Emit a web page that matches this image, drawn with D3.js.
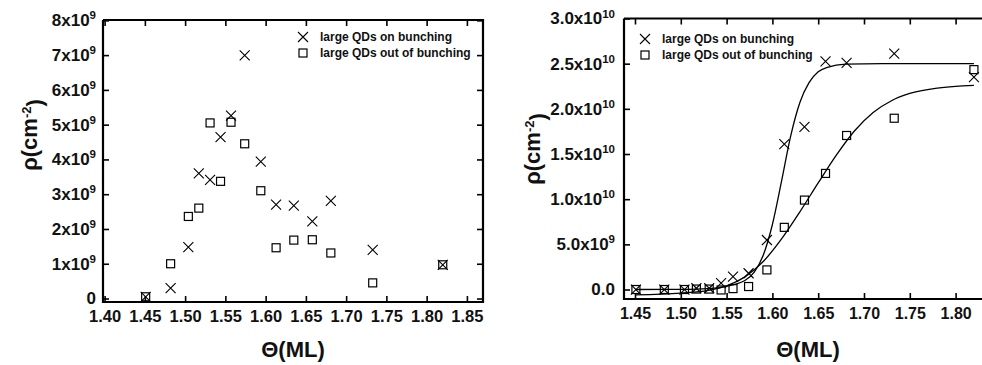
<!DOCTYPE html>
<html>
<head>
<meta charset="utf-8">
<script src="https://cdn.jsdelivr.net/npm/d3@7"></script>
<style>
    body { margin: 0; background: #fff; }
    svg { display: block; }
    text { font-family: "Liberation Sans", Arial, Helvetica, sans-serif; font-weight: bold; fill: #111; }
</style>
</head>
<body>
<svg id="chart" width="982" height="365"></svg>
<script>
// coverage in ML, shared by both panels
const theta = [1.451, 1.482, 1.504, 1.517, 1.531, 1.544, 1.557, 1.574, 1.594, 1.613, 1.635, 1.658, 1.681, 1.733, 1.820];

// densities in units of 1e9 cm^-2
const onBunchLeft  = [0.05, 0.3, 1.48, 3.6, 3.41, 4.64, 5.26, 6.99, 3.94, 2.7, 2.67, 2.22, 2.81, 1.40, 0.97];
const outBunchLeft = [0.05, 1.0, 2.36, 2.6, 5.05, 3.37, 5.07, 4.45, 3.1, 1.46, 1.68, 1.69, 1.31, 0.45, 0.97];

const onBunchRight  = [0, 0, 0, 0.14, 0.14, 0.7, 1.43, 1.8, 5.48, 16.1, 18.0, 25.26, 25.1, 26.1, 23.5];
const outBunchRight = [0, 0, 0, 0.05, 0.05, -0.05, 0.1, 0.33, 2.17, 6.88, 9.9, 12.85, 17.05, 18.96, 24.34];

// fitted curves
const fitOnTheta = [1.45, 1.50, 1.53, 1.55, 1.56, 1.57, 1.58, 1.59, 1.60, 1.61, 1.62, 1.63, 1.64, 1.65, 1.66, 1.68, 1.72, 1.82];
const fitOn      = [0, 0.02, 0.1, 0.35, 0.6, 1.0, 1.9, 3.8, 7.2, 12.0, 17.0, 20.7, 22.9, 24.1, 24.6, 24.95, 25.0, 25.0];
const fitOutTheta = [1.45, 1.50, 1.53, 1.55, 1.57, 1.59, 1.61, 1.63, 1.65, 1.67, 1.69, 1.71, 1.73, 1.75, 1.78, 1.82];
const fitOut      = [-0.6, -0.4, -0.1, 0.4, 1.4, 3.1, 5.6, 8.6, 11.8, 14.9, 17.6, 19.6, 20.9, 21.7, 22.3, 22.6];

const xTicksLeft = [1.40, 1.45, 1.50, 1.55, 1.60, 1.65, 1.70, 1.75, 1.80, 1.85];
const yTicksLeft = [0, 1, 2, 3, 4, 5, 6, 7, 8];
const yLabelsLeft = ["0", "1x10^9", "2x10^9", "3x10^9", "4x10^9", "5x10^9", "6x10^9", "7x10^9", "8x10^9"];

const xTicksRight = [1.45, 1.50, 1.55, 1.60, 1.65, 1.70, 1.75, 1.80];
const yTicksRight = [0, 5, 10, 15, 20, 25, 30];
const yLabelsRight = ["0.0", "5.0x10^9", "1.0x10^10", "1.5x10^10", "2.0x10^10", "2.5x10^10", "3.0x10^10"];

const legendLabels = ["large QDs on bunching", "large QDs out of bunching"];

const svg = d3.select("#chart");
const ink = "#000";

function drawPanel(p) {
    const g = svg.append("g");
    const x = d3.scaleLinear().domain(p.xDomain).range([p.left, p.right]);
    const y = d3.scaleLinear().domain(p.yDomain).range([p.bottom, p.top]);

    // bottom axis with labels
    const bx = g.append("g")
        .attr("transform", `translate(0,${p.bottom})`)
        .call(d3.axisBottom(x).tickValues(p.xTicks).tickSizeInner(-6).tickSizeOuter(0)
            .tickFormat(d3.format(".2f")));
    bx.selectAll(".tick text")
        .attr("y", 20)
        .attr("dy", null)
        .style("font-size", p.xFont)
        .style("font-family", null)
        .attr("fill", ink);

    // top ticks
    const tx = g.append("g")
        .attr("transform", `translate(0,${p.top})`)
        .call(d3.axisTop(x).tickValues(p.xTicks).tickSizeInner(-6).tickSizeOuter(0).tickFormat(""));

    // left axis with superscript labels
    const ly = g.append("g")
        .attr("transform", `translate(${p.left},0)`)
        .call(d3.axisLeft(y).tickValues(p.yTicks).tickSizeInner(-6).tickSizeOuter(0));
    ly.selectAll(".tick text")
        .attr("x", -p.labelGap)
        .style("font-size", p.yFont)
        .style("font-family", null)
        .attr("fill", ink)
        .each(function (d, i) {
            const parts = p.yLabels[i].split("^");
            const t = d3.select(this).text(null);
            t.append("tspan").text(parts[0]);
            if (parts[1]) {
                t.append("tspan")
                    .attr("dy", "-0.6em")
                    .style("font-size", "11.5px")
                    .text(parts[1]);
            }
        });

    const ry = g.append("g")
        .attr("transform", `translate(${p.right},0)`)
        .call(d3.axisRight(y).tickValues(p.rightTicks ? p.yTicks : []).tickSizeInner(-6).tickSizeOuter(0).tickFormat(""));

    [bx, tx, ly, ry].forEach(a => {
        a.select(".domain").remove();
        a.selectAll(".tick line")
            .style("stroke", ink)
            .style("stroke-width", "1.6px");
    });

    // fitted curves
    if (p.fits) {
        p.fits.forEach(f => {
            const line = d3.line()
                .x((d, i) => x(f.xs[i]))
                .y(d => y(d))
                .curve(d3.curveMonotoneX);
            g.append("path")
                .datum(f.ys)
                .attr("fill", "none")
                .attr("stroke", ink)
                .attr("stroke-width", 1.3)
                .attr("d", line);
        });
    }

    // markers
    g.append("g").selectAll("path")
        .data(p.on)
        .join("path")
        .attr("transform", (d, i) => `translate(${x(theta[i])},${y(d)})`)
        .attr("d", "M-5,-5L5,5M5,-5L-5,5")
        .attr("fill", "none")
        .attr("stroke", ink)
        .attr("stroke-width", 1.1);

    g.append("g").selectAll("rect")
        .data(p.out)
        .join("rect")
        .attr("x", (d, i) => x(theta[i]) - 4)
        .attr("y", d => y(d) - 4)
        .attr("width", 8)
        .attr("height", 8)
        .attr("fill", "none")
        .attr("stroke", ink)
        .attr("stroke-width", 1.2);

    // legend
    const lg = g.append("g").attr("transform", `translate(${p.legend[0]},${p.legend[1]})`);
    lg.append("path")
        .attr("d", "M-5,-5L5,5M5,-5L-5,5")
        .attr("fill", "none")
        .attr("stroke", ink)
        .attr("stroke-width", 1.1);
    lg.append("rect")
        .attr("x", -4).attr("y", 12).attr("width", 8).attr("height", 8)
        .attr("fill", "none")
        .attr("stroke", ink)
        .attr("stroke-width", 1.2);
    lg.selectAll("text")
        .data(legendLabels)
        .join("text")
        .attr("x", 17)
        .attr("y", (d, i) => 4 + i * 16)
        .style("font-size", "12px")
        .text(d => d);

    // axis titles
    g.append("text")
        .attr("x", p.xTitle[0])
        .attr("y", p.xTitle[1])
        .attr("text-anchor", "middle")
        .style("font-size", "22px")
        .text("Θ(ML)");

    const yt = g.append("text")
        .attr("transform", `translate(${p.yTitle[0]},${p.yTitle[1]}) rotate(-90)`)
        .attr("text-anchor", "middle")
        .style("font-size", "22px");
    yt.append("tspan").text("ρ(cm");
    yt.append("tspan").attr("dy", "-0.5em").style("font-size", "13px").text("-2");
    yt.append("tspan").attr("dy", "0.5em").text(")");

    // frame, drawn last so nothing covers it
    g.append("polyline")
        .attr("points", [[p.left, p.top], [p.right, p.top], [p.right, p.bottom], [p.left, p.bottom], [p.left, p.top]].join(" "))
        .attr("fill", "none")
        .attr("stroke", ink)
        .attr("stroke-width", 2.2)
        .attr("stroke-linejoin", "miter");
}

drawPanel({
    left: 103, right: 483, top: 20, bottom: 302,
    xDomain: [1.398, 1.870], yDomain: [-0.1, 8.01],
    xTicks: xTicksLeft, yTicks: yTicksLeft, yLabels: yLabelsLeft,
    xFont: "16.5px", yFont: "17px", labelGap: 7,
    rightTicks: true,
    on: onBunchLeft, out: outBunchLeft,
    legend: [303, 37],
    xTitle: [293, 357], yTitle: [37, 135]
});

drawPanel({
    left: 624, right: 984, top: 18.5, bottom: 299,
    xDomain: [1.438, 1.831], yDomain: [-1.05, 30.0],
    xTicks: xTicksRight, yTicks: yTicksRight, yLabels: yLabelsRight,
    xFont: "16px", yFont: "17px", labelGap: 9,
    rightTicks: false,
    on: onBunchRight, out: outBunchRight,
    fits: [{ xs: fitOnTheta, ys: fitOn }, { xs: fitOutTheta, ys: fitOut }],
    legend: [645, 39],
    xTitle: [808, 357], yTitle: [540, 149]
});
</script>
</body>
</html>
